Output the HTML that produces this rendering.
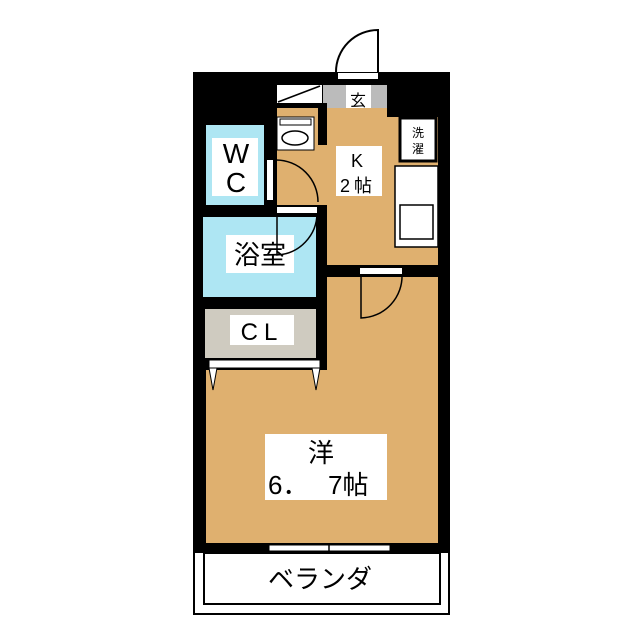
<!DOCTYPE html>
<html><head><meta charset="utf-8"><style>body{margin:0;background:#fff}svg{display:block}text{font-family:"Liberation Sans","Noto Sans CJK JP",sans-serif;fill:#000}</style></head><body>
<svg width="640" height="640" viewBox="0 0 640 640" xmlns="http://www.w3.org/2000/svg">
<rect width="640" height="640" fill="#fff"/>
<path d="M336 72 A42 42 0 0 1 378 30 L378 72" fill="none" stroke="#000" stroke-width="2"/>
<rect x="194" y="551" width="255" height="63" fill="#fff" stroke="#000" stroke-width="2"/>
<rect x="204" y="553" width="236" height="51" fill="#fff" stroke="#000" stroke-width="2"/>
<rect x="193" y="72" width="257" height="481" fill="#000"/>
<rect x="338" y="73" width="40" height="6" fill="#fff"/>
<rect x="323" y="85" width="64" height="23" fill="#bbb"/>
<rect x="346" y="85" width="25" height="30" fill="#fff"/>
<text x="358" y="106" font-size="16" text-anchor="middle">玄</text>
<rect x="277" y="85" width="45" height="18" fill="#fff"/>
<line x1="278" y1="102" x2="320" y2="86" stroke="#000" stroke-width="1.5"/>
<path d="M277 108 L387 108 L387 117 L438 117 L438 265 L327 265 L327 205 L277 205 Z" fill="#dfb06f"/>
<rect x="318" y="103" width="9" height="42" fill="#000"/>
<rect x="277" y="117" width="37" height="33" fill="#fff" stroke="#000" stroke-width="1"/>
<rect x="280" y="119" width="31" height="6" fill="none" stroke="#000" stroke-width="1"/>
<ellipse cx="295" cy="138" rx="13" ry="7" fill="#fff" stroke="#000" stroke-width="1.5"/>
<rect x="336" y="146" width="46" height="50" fill="#fff"/>
<text x="357" y="167" font-size="18" text-anchor="middle">K</text>
<text x="358" y="192" font-size="18" text-anchor="middle" letter-spacing="4">2帖</text>
<rect x="400" y="118" width="36" height="43" fill="#fff" stroke="#000" stroke-width="3"/>
<text x="418" y="137" font-size="12" text-anchor="middle">洗</text>
<text x="418" y="153" font-size="12" text-anchor="middle">濯</text>
<rect x="395" y="166" width="43" height="81" fill="#fff" stroke="#000" stroke-width="1.5"/>
<rect x="400" y="205" width="33" height="34" fill="#fff" stroke="#000" stroke-width="1.5"/>
<rect x="206" y="125" width="58" height="80" fill="#aee6f3"/>
<rect x="212" y="138" width="46" height="58" fill="#fff"/>
<text x="236" y="163" font-size="28" text-anchor="middle">W</text>
<text x="236" y="192" font-size="28" text-anchor="middle">C</text>
<rect x="267" y="160" width="6" height="40" fill="#fff"/>
<path d="M276 160 A42 42 0 0 1 318 202" fill="none" stroke="#000" stroke-width="1.5"/>
<rect x="203" y="217" width="113" height="80" fill="#aee6f3"/>
<rect x="226" y="235" width="68" height="38" fill="#fff"/>
<text x="260" y="264" font-size="26" text-anchor="middle">浴室</text>
<rect x="277" y="207" width="40" height="6" fill="#fff"/>
<path d="M277 213 L277 255 A42 42 0 0 0 317 213" fill="none" stroke="#000" stroke-width="1.5"/>
<path d="M327 277 L438 277 L438 543 L206 543 L206 370 L327 370 Z" fill="#dfb06f"/>
<rect x="360" y="268" width="42" height="6" fill="#fff"/>
<path d="M361 274 L361 318 A42 42 0 0 0 402 274" fill="none" stroke="#000" stroke-width="1.5"/>
<rect x="265" y="434" width="122" height="66" fill="#fff"/>
<text x="321" y="462" font-size="26" text-anchor="middle">洋</text>
<text x="268" y="494" font-size="26">6．</text>
<text x="328" y="494" font-size="26">7帖</text>
<rect x="205" y="309" width="111" height="49" fill="#cfcbc0"/>
<rect x="230" y="315" width="64" height="30" fill="#fff"/>
<text x="262" y="340" font-size="24" text-anchor="middle" letter-spacing="6">CL</text>
<rect x="209" y="360" width="111" height="8" fill="#fff" stroke="#000" stroke-width="1"/>
<path d="M209 368 L217 368 L213 390 Z M312 368 L320 368 L316 390 Z" fill="#fff" stroke="#000" stroke-width="1"/>
<rect x="269" y="545" width="121" height="6" fill="#fff" stroke="#000" stroke-width="1"/>
<line x1="329" y1="543" x2="329" y2="554" stroke="#000" stroke-width="1.5"/>
<text x="320" y="588" font-size="26" text-anchor="middle">ベランダ</text>
</svg>
</body></html>
